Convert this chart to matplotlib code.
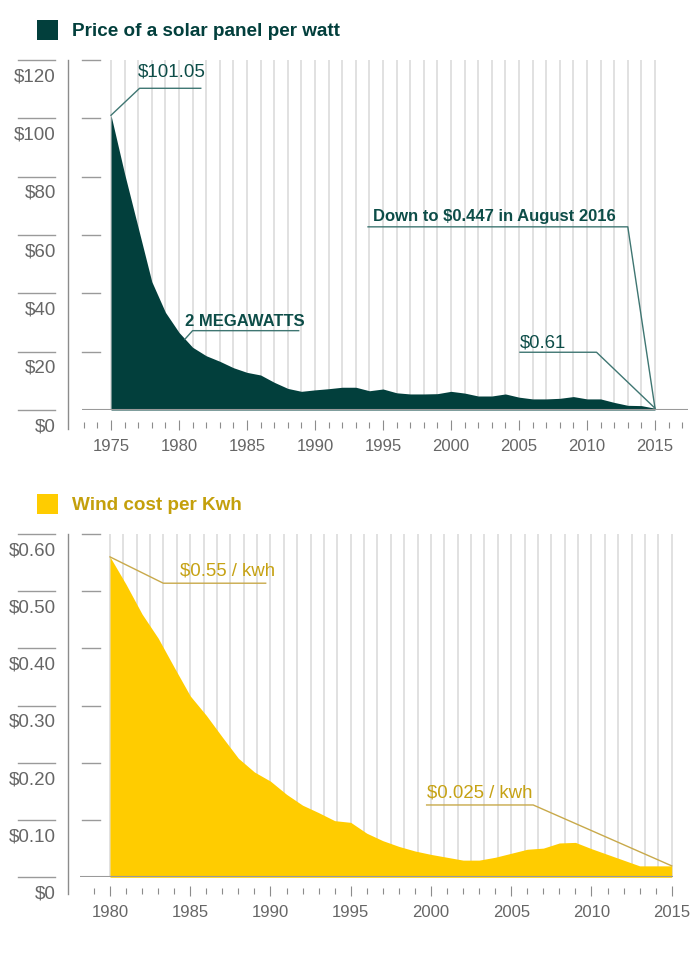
import matplotlib
matplotlib.use("Agg")
import matplotlib.pyplot as plt
import matplotlib.transforms as mtransforms
from matplotlib.patches import Rectangle
from matplotlib.ticker import MultipleLocator
import numpy as np

plt.rcParams['font.family'] = ['Liberation Sans', 'DejaVu Sans']

# ---- data -------------------------------------------------------------
solar_years = list(range(1975, 2016))
solar_price = [101.05, 81.0, 62.5, 44.0, 33.5, 26.6, 21.5, 18.6, 16.7, 14.5,
               12.9, 12.0, 9.5, 7.4, 6.4, 6.9, 7.3, 7.8, 7.8, 6.6,
               7.2, 5.9, 5.5, 5.5, 5.6, 6.4, 5.8, 4.8, 4.8, 5.5,
               4.4, 3.8, 3.8, 4.0, 4.6, 3.8, 3.8, 2.6, 1.6, 1.5,
               0.61]
solar_ticks = [0, 20, 40, 60, 80, 100, 120]
solar_labels = ['$0', '$20', '$40', '$60', '$80', '$100', '$120']

wind_years = list(range(1980, 2016))
wind_cost = [0.56, 0.512, 0.460, 0.418, 0.367, 0.317, 0.283, 0.245, 0.208, 0.184,
             0.168, 0.145, 0.126, 0.113, 0.099, 0.096, 0.077, 0.064, 0.054, 0.046,
             0.040, 0.035, 0.030, 0.030, 0.035, 0.042, 0.049, 0.051, 0.060, 0.061,
             0.050, 0.040, 0.030, 0.020, 0.020, 0.020]
wind_ticks = [0, 0.1, 0.2, 0.3, 0.4, 0.5, 0.6]
wind_labels = ['$0', '$0.10', '$0.20', '$0.30', '$0.40', '$0.50', '$0.60']

# ---- colours ----------------------------------------------------------
TEAL = '#023f3c'
TEAL_TXT = '#0d4d48'
TEAL_LINE = '#3f7672'
YELLOW = '#ffcc00'
GOLD = '#c4a00c'
GOLD_TXT = '#c6a214'
GOLD_LINE = '#c8a94a'
GREY_TXT = '#666666'
GREY_LINE = '#8c8c8c'
GRID = '#dedede'

W, H = 700, 954
fig = plt.figure(figsize=(W / 100, H / 100), dpi=100)
px = mtransforms.Affine2D().scale(1 / W, -1 / H).translate(0, 1) + fig.transFigure


def make_axes(left, right, top, bottom):
    return fig.add_axes([left / W, 1 - bottom / H, (right - left) / W, (bottom - top) / H])


def frame(ax, ticks, labels, axis_x, axis_bottom, title, title_y, title_col, sq_col,
          spine_out, tick_pad):
    ax.set_facecolor('none')
    for s in ['top', 'right', 'left']:
        ax.spines[s].set_visible(False)
    ax.spines['bottom'].set_position(('outward', spine_out))
    ax.spines['bottom'].set_color('none')
    ax.set_yticks([])
    ax.xaxis.set_major_locator(MultipleLocator(5))
    ax.xaxis.set_minor_locator(MultipleLocator(1))
    ax.tick_params(axis='x', which='major', direction='inout', length=7.2, width=0.8,
                   color=GREY_LINE, labelsize=12, labelcolor=GREY_TXT, pad=tick_pad)
    ax.tick_params(axis='x', which='minor', direction='inout', length=4.3, width=0.8,
                   color=GREY_LINE)
    ax.axhline(0, color='#9a9a9a', lw=1.5, zorder=4)

    blend = mtransforms.blended_transform_factory(px, ax.transData)
    for v, lbl in zip(ticks, labels):
        ax.plot([18, 55], [v, v], color='#9a9a9a', lw=1, transform=blend, clip_on=False)
        if v != 0:
            ax.plot([82, 100], [v, v], color='#9a9a9a', lw=1, transform=blend, clip_on=False)
        ax.annotate(lbl, xy=(56, v), xycoords=blend, xytext=(0, -11.3),
                    textcoords='offset points', ha='right', va='center',
                    fontsize=13.5, color=GREY_TXT)
    top_px = ax.transData.transform((0, ticks[-1]))[1]
    ax.plot([axis_x, axis_x], [H - top_px, axis_bottom], color=GREY_LINE, lw=1,
            transform=px, clip_on=False)

    fig.add_artist(Rectangle((37, title_y - 10), 21, 20, transform=px,
                             facecolor=sq_col, edgecolor='none'))
    fig.text(72, title_y, title, transform=px, fontsize=13.6, fontweight='bold',
             color=title_col, va='center', ha='left')


# ---- solar panel ------------------------------------------------------
ppy_s = (655 - 111) / 40
ax1 = make_axes(82, 688, 61, 411)
ax1.set_xlim(1975 - (111 - 82) / ppy_s, 2015 + (688 - 655) / ppy_s)
ax1.set_ylim(0, 120)
ax1.vlines(solar_years, 0, 120, color=GRID, lw=1.3, zorder=1)
ax1.fill_between(solar_years, solar_price, 0, color=TEAL, lw=0, zorder=2)
frame(ax1, solar_ticks, solar_labels, 68.3, 430, 'Price of a solar panel per watt', 31,
      TEAL, TEAL, 10.8, 6)

kw = dict(color=TEAL_LINE, lw=1, clip_on=False, zorder=5)
ax1.plot([solar_years[0], 1977.1, 1981.6], [solar_price[0], 110.3, 110.3], **kw)
ax1.text(1977.0, 116.2, '$101.05', fontsize=13.5, color=TEAL_TXT, va='center')
ax1.plot([1980.44, 1981.0, 1988.8], [24.3, 27.2, 27.2], **kw)
ax1.text(1980.44, 30.6, '2 MEGAWATTS', fontsize=12, fontweight='bold', color=TEAL_TXT,
         va='center')
ax1.plot([1993.9, 2013.0, solar_years[-1]], [62.8, 62.8, solar_price[-1]], **kw)
ax1.text(1994.26, 66.6, 'Down to $0.447 in August 2016', fontsize=12, fontweight='bold',
         color=TEAL_TXT, va='center')
ax1.plot([2005.07, 2010.7, solar_years[-1]], [19.8, 19.8, solar_price[-1]], **kw)
ax1.text(2005.07, 23.4, '$0.61', fontsize=13.3, color=TEAL_TXT, va='center')

# ---- wind ---------------------------------------------------------------
ppy_w = (671.7 - 110) / 35
ax2 = make_axes(80, 672.7, 535, 878.3)
ax2.set_xlim(1980 - (110 - 80) / ppy_w, 2015 + 1 / ppy_w)
ax2.set_ylim(0, 0.6)
ax2.vlines(np.linspace(1980, 2015, 43), 0, 0.6, color=GRID, lw=1.3, zorder=1)
ax2.fill_between(wind_years, wind_cost, 0, color=YELLOW, lw=0, zorder=2)
frame(ax2, wind_ticks, wind_labels, 68, 895, 'Wind cost per Kwh', 505, GOLD, YELLOW,
      9.6, 6)

kw = dict(color=GOLD_LINE, lw=1, clip_on=False, zorder=5)
ax2.plot([wind_years[0], 1983.32, 1989.7], [wind_cost[0], 0.514, 0.514], **kw)
ax2.text(1984.36, 0.537, '$0.55 / kwh', fontsize=13.4, color=GOLD_TXT, va='center')
ax2.plot([1999.73, 2006.37, wind_years[-1]], [0.1264, 0.1264, wind_cost[-1]], **kw)
ax2.text(1999.73, 0.149, '$0.025 / kwh', fontsize=13.4, color=GOLD_TXT, va='center')

fig.savefig('out.png', dpi=100)
